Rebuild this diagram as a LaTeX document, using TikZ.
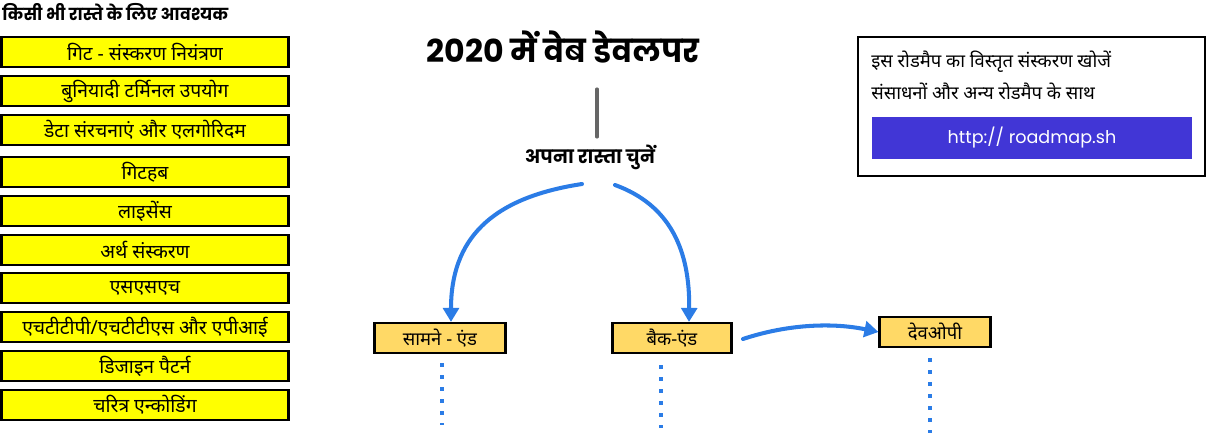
\documentclass[tikz,border=0pt]{standalone}
\usepackage{fontspec}
\setmainfont[Script=Devanagari]{Noto Sans}
\newfontfamily\titlefont[Script=Devanagari]{Poppins}
\usetikzlibrary{arrows.meta}
\definecolor{needyellow}{HTML}{FFFF00}
\definecolor{pathorange}{HTML}{FFD966}
\definecolor{flowblue}{HTML}{2B7CE6}
\definecolor{linkblue}{HTML}{4136D6}

\begin{document}
\begin{tikzpicture}[x=0.02cm,y=-0.02cm,
  need/.style={draw=black,line width=1.2pt,fill=needyellow,minimum width=5.74cm,minimum height=0.6cm,inner sep=0pt,font=\fontsize{11}{13}\selectfont},
  track/.style={draw=black,line width=1.2pt,fill=pathorange,minimum height=0.6cm,inner sep=0pt,font=\fontsize{10.5}{12}\selectfont},
  flow/.style={flowblue,line width=2.3pt,line cap=round,-{Triangle[length=8pt,width=9pt]}},
  later/.style={flowblue,line width=1.9pt,dash pattern=on 0.08cm off 0.16cm}]
\useasboundingbox (0,0) rectangle (1207,436);

\node[anchor=west,inner sep=0pt,font=\titlefont\bfseries\fontsize{9.4}{10}\selectfont] (musthave) at (2,12) {किसी भी रास्ते के लिए आवश्यक};
\node[need] (git) at (145,52) {गिट - संस्करण नियंत्रण};
\node[need] (terminal) at (145,91) {बुनियादी टर्मिनल उपयोग};
\node[need] (dsa) at (145,130) {डेटा संरचनाएं और एलगोरिदम};
\node[need] (github) at (145,172) {गिटहब};
\node[need] (licenses) at (145,211) {लाइसेंस};
\node[need] (semver) at (145,250) {अर्थ संस्करण};
\node[need] (ssh) at (145,288) {एसएसएच};
\node[need] (http) at (145,327) {एचटीटीपी/एचटीटीएस और एपीआई};
\node[need] (patterns) at (145,366) {डिजाइन पैटर्न};
\node[need] (encoding) at (145,405) {चरित्र एन्कोडिंग};

\node[font=\titlefont\bfseries\fontsize{18}{21}\selectfont] (title) at (563,47) {2020 में वेब डेवलपर};
\coordinate (stemtop) at (597,89);
\coordinate (stembot) at (597,137);
\draw[black!60,line width=1.8pt,line cap=round] (stemtop) -- (stembot);
\node[font=\titlefont\bfseries\fontsize{10.5}{12}\selectfont] (choose) at (590,157) {अपना रास्ता चुनें};

\draw[black,line width=1.2pt] (858,37) rectangle (1205,176);
\node[anchor=west,inner sep=0pt,font=\fontsize{10.5}{12}\selectfont] (findmore) at (871,62) {इस रोडमैप का विस्तृत संस्करण खोजें};
\node[anchor=west,inner sep=0pt,font=\fontsize{10.5}{12}\selectfont] (resources) at (871,91) {संसाधनों और अन्य रोडमैप के साथ};
\node[fill=linkblue,minimum width=6.4cm,minimum height=0.86cm,inner sep=0pt,text=white,font=\titlefont\fontsize{10}{12}\selectfont] (link) at (1032,138) {http:// roadmap.sh};

\node[track,minimum width=2.62cm] (frontend) at (440,338) {सामने - एंड};
\node[track,minimum width=2.38cm] (backend) at (672,338) {बैक-एंड};
\node[track,minimum width=2.22cm] (devops) at (935,332) {देवओपी};

\coordinate (leftstart) at (582,184);
\coordinate (rightstart) at (615,185);
\draw[flow] (leftstart) .. controls (490,198) and (451,240) .. (frontend.north -| 451,0);
\draw[flow] (rightstart) .. controls (670,205) and (690,250) .. (backend.north -| 689,0);
\coordinate (opsstart) at (743,339);
\draw[flow] (opsstart) .. controls (785,325) and (830,322) .. (devops.west);

\coordinate (feend) at (442,425);
\coordinate (beend) at (661,428);
\coordinate (opsend) at (930,433);
\draw[later] (frontend.south -| feend) ++(0,9) -- (feend);
\draw[later] (backend.south -| beend) ++(0,11) -- (beend);
\draw[later] (devops.south -| opsend) ++(0,10) -- (opsend);
\end{tikzpicture}
\end{document}
